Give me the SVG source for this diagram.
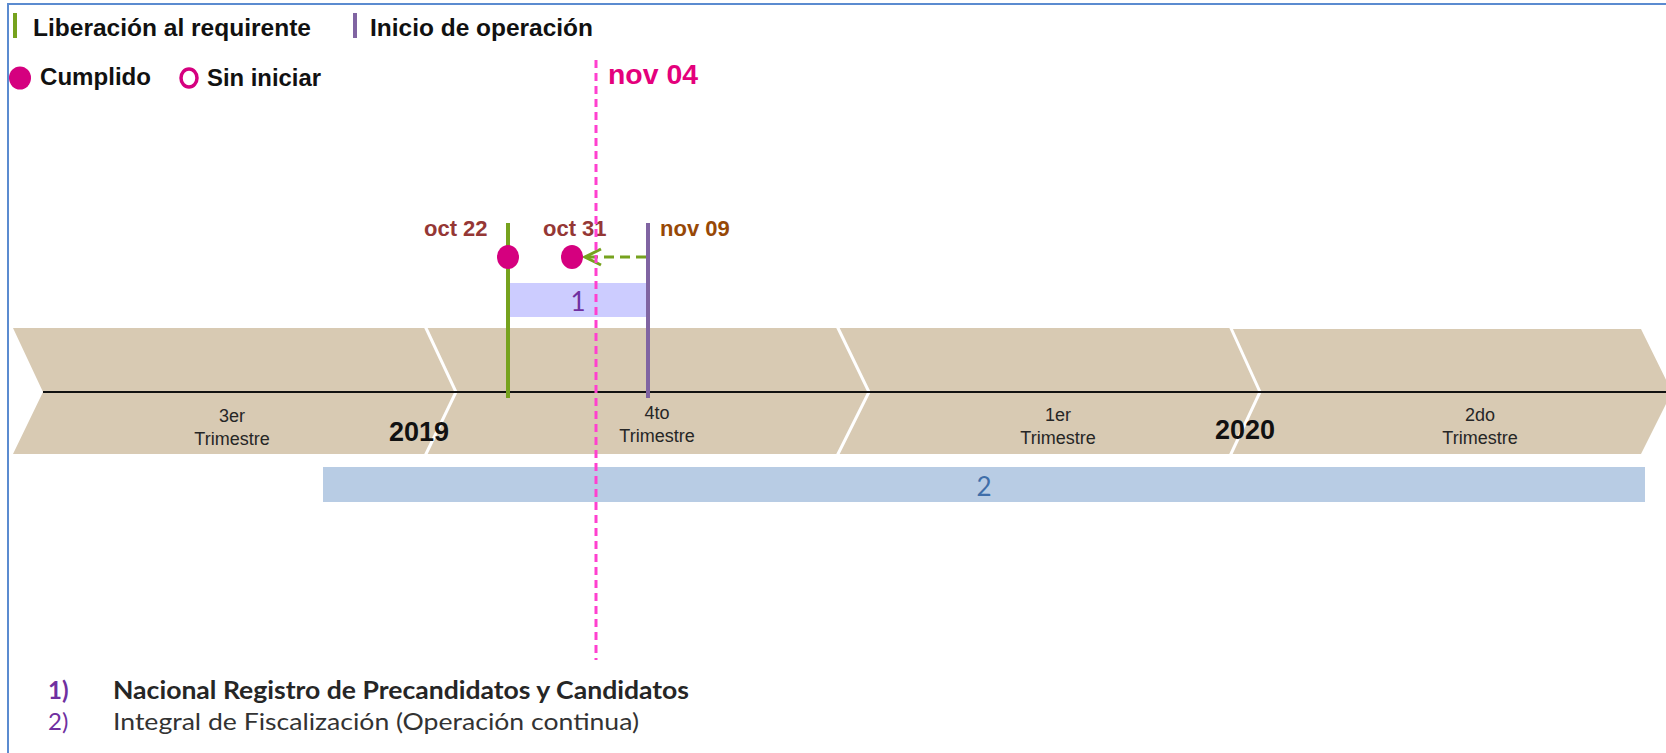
<svg xmlns="http://www.w3.org/2000/svg" width="1666" height="753" viewBox="0 0 1666 753">
<defs>
<style>
.lg{font-family:"Liberation Sans",Arial,sans-serif;font-weight:bold;font-size:24px;fill:#111}
.q{font-family:"Liberation Sans",Arial,sans-serif;font-size:18px;fill:#262626;text-anchor:middle}
.yr{font-family:"Liberation Sans",Arial,sans-serif;font-weight:bold;font-size:27px;fill:#111}
.dt{font-family:"Liberation Sans",Arial,sans-serif;font-weight:bold;font-size:22px}
.chev{fill:#D8CAB3}
.sep{fill:none;stroke:#fff;stroke-width:3}
.done{fill:#D5007F}
.num{font-family:Lato,"Open Sans",sans-serif;font-size:26px;text-anchor:middle}
.bl{font-family:Lato,"Open Sans",sans-serif;font-size:24px}
</style>
<marker id="ah" viewBox="0 0 20 20" refX="18" refY="10" markerWidth="20" markerHeight="20" markerUnits="userSpaceOnUse" orient="auto">
<polyline points="2,2 18,10 2,18" fill="none" stroke="#76A21E" stroke-width="3"/>
</marker>
</defs>
<rect width="1666" height="753" fill="#fff"/>
<rect x="8" y="4" width="1700" height="800" fill="none" stroke="#5B8BD0" stroke-width="2"/>

<g id="legend">
<rect x="13" y="13" width="4" height="25" fill="#76A21E"/>
<text class="lg" x="33" y="36" textLength="278" lengthAdjust="spacingAndGlyphs">Liberación  al requirente</text>
<rect x="353" y="13" width="4" height="25" fill="#8064A2"/>
<text class="lg" x="370" y="36" textLength="223" lengthAdjust="spacingAndGlyphs">Inicio  de operación</text>
<ellipse class="done" cx="20" cy="78" rx="11" ry="11.5"/>
<text class="lg" x="40" y="85" textLength="111" lengthAdjust="spacingAndGlyphs">Cumplido</text>
<ellipse cx="189" cy="78" rx="8" ry="9" fill="none" stroke="#D5007F" stroke-width="3.5"/>
<text class="lg" x="207" y="86" textLength="114" lengthAdjust="spacingAndGlyphs">Sin iniciar</text>
</g>

<g id="timeline">
<polygon class="chev" points="13,328 425,328 456,392 425,454 13,454 43,392"/>
<polygon class="chev" points="425,328 837,328 869,392 837,454 425,454 456,392"/>
<polygon class="chev" points="837,328 1230,328 1260,392 1230,454 837,454 869,392"/>
<polygon class="chev" points="1230,329 1641,329 1672,392 1641,454 1230,454 1260,392"/>
<polyline class="sep" points="425,326 456,392 425,456"/>
<polyline class="sep" points="837,326 869,392 837,456"/>
<polyline class="sep" points="1230,326 1260,392 1230,456"/>
<line x1="43" y1="392" x2="1666" y2="392" stroke="#111" stroke-width="2"/>
</g>

<g id="q3"><text class="q" x="232" y="422">3er</text><text class="q" x="232" y="445">Trimestre</text></g>
<g id="y2019"><text class="yr" x="389" y="441">2019</text></g>
<g id="q4"><text class="q" x="657" y="419">4to</text><text class="q" x="657" y="442">Trimestre</text></g>
<g id="q1"><text class="q" x="1058" y="421">1er</text><text class="q" x="1058" y="444">Trimestre</text></g>
<g id="y2020"><text class="yr" x="1215" y="439">2020</text></g>
<g id="q2"><text class="q" x="1480" y="421">2do</text><text class="q" x="1480" y="444">Trimestre</text></g>

<g id="bar2">
<rect x="323" y="467" width="1322" height="35" fill="#B8CCE4"/>
<text class="num" x="984" y="496" fill="#3F6EA9">2</text>
</g>

<g id="bar1">
<rect x="510" y="283" width="137" height="34" fill="#CCCCFF"/>
<text class="num" x="578" y="311" fill="#7030A0">1</text>
</g>

<g id="liberacion">
<line x1="508" y1="223" x2="508" y2="398" stroke="#76A21E" stroke-width="4"/>
<ellipse class="done" cx="508" cy="257" rx="11" ry="12"/>
<text class="dt" x="424" y="236" fill="#953735">oct 22</text>
</g>

<g id="cumplido-oct31">
<ellipse class="done" cx="572" cy="257" rx="11" ry="12"/>
<text class="dt" x="543" y="236" fill="#953735">oct 31</text>
</g>

<g id="inicio">
<line x1="648" y1="223" x2="648" y2="398" stroke="#8064A2" stroke-width="4"/>
<text class="dt" x="660" y="236" fill="#974806">nov 09</text>
</g>

<g id="connectors">
<line x1="646" y1="257" x2="585" y2="257" stroke="#76A21E" stroke-width="3" stroke-dasharray="10,6" marker-end="url(#ah)"/>
</g>

<g id="today">
<line x1="596" y1="60" x2="596" y2="660" stroke="#FF40CF" stroke-width="3" stroke-dasharray="8,5"/>
<text x="608" y="84" font-family="Liberation Sans, Arial, sans-serif" font-weight="bold" font-size="27" fill="#E4007C" textLength="90" lengthAdjust="spacingAndGlyphs">nov 04</text>
</g>

<g id="notes">
<text class="bl" x="48" y="699" fill="#7030A0" font-weight="bold">1)</text>
<text class="bl" x="113" y="699" fill="#262626" font-weight="bold" textLength="576" lengthAdjust="spacingAndGlyphs">Nacional  Registro de Precandidatos y Candidatos</text>
<text class="bl" x="48" y="730" fill="#7030A0">2)</text>
<text class="bl" x="113" y="730" fill="#333" textLength="526" lengthAdjust="spacingAndGlyphs">Integral de Fiscalización (Operación continua)</text>
</g>
</svg>
